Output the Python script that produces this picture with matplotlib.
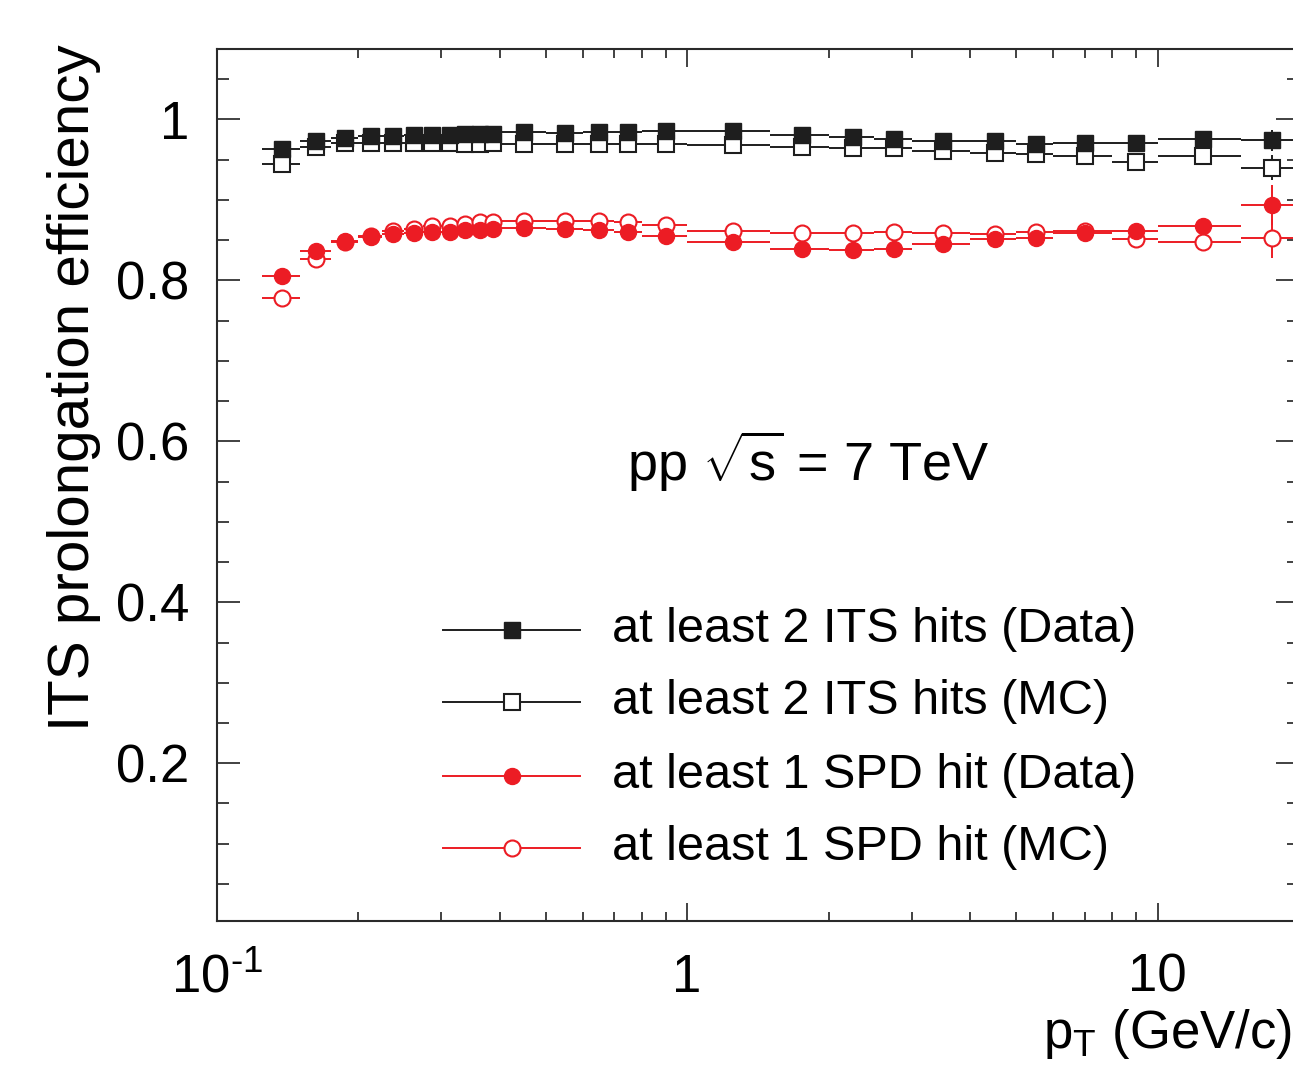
import matplotlib
matplotlib.use("Agg")
import matplotlib.pyplot as plt
import numpy as np
from matplotlib.ticker import FixedLocator, MultipleLocator, LogLocator, NullFormatter, FixedFormatter
from matplotlib.lines import Line2D
from matplotlib import transforms

plt.rcParams['font.family'] = ['Liberation Sans', 'DejaVu Sans']
plt.rcParams['mathtext.fontset'] = 'custom'
plt.rcParams['mathtext.rm'] = 'Liberation Sans'
plt.rcParams['mathtext.it'] = 'Liberation Sans:italic'
plt.rcParams['mathtext.bf'] = 'Liberation Sans:bold'

# ---------------- data ----------------
pt_edges = [0.125, 0.15, 0.175, 0.2, 0.225, 0.25, 0.275, 0.3, 0.325, 0.35, 0.375, 0.4,
            0.5, 0.6, 0.7, 0.8, 1.0, 1.5, 2.0, 2.5, 3.0, 4.0, 5.0, 6.0, 8.0, 10.0, 15.0, 20.0]

its_data = [0.963, 0.973, 0.977, 0.979, 0.979, 0.981, 0.981, 0.981, 0.982, 0.982, 0.982,
            0.984, 0.983, 0.984, 0.984, 0.986, 0.985, 0.981, 0.978, 0.975, 0.973, 0.973,
            0.969, 0.970, 0.971, 0.975, 0.974]
its_data_err = [0.002] * 25 + [0.004, 0.013]

its_mc = [0.944, 0.965, 0.971, 0.971, 0.971, 0.971, 0.971, 0.971, 0.969, 0.969, 0.971,
          0.969, 0.969, 0.969, 0.969, 0.969, 0.968, 0.966, 0.964, 0.964, 0.961, 0.958,
          0.957, 0.954, 0.947, 0.954, 0.940]
its_mc_err = [0.002] * 25 + [0.005, 0.016]

spd_data = [0.805, 0.836, 0.849, 0.854, 0.857, 0.859, 0.860, 0.860, 0.862, 0.863, 0.864,
            0.865, 0.864, 0.863, 0.860, 0.855, 0.847, 0.839, 0.838, 0.839, 0.845, 0.851,
            0.852, 0.859, 0.861, 0.867, 0.894]
spd_data_err = [0.002] * 25 + [0.010, 0.025]

spd_mc = [0.778, 0.827, 0.848, 0.855, 0.861, 0.864, 0.867, 0.868, 0.870, 0.872, 0.872,
          0.874, 0.874, 0.874, 0.872, 0.869, 0.861, 0.859, 0.859, 0.860, 0.859, 0.857,
          0.860, 0.861, 0.851, 0.848, 0.852]
spd_mc_err = [0.002] * 25 + [0.006, 0.024]

labels = ["at least 2 ITS hits (Data)", "at least 2 ITS hits (MC)",
          "at least 1 SPD hit (Data)", "at least 1 SPD hit (MC)"]

x_ticks = [0.1, 1, 10]
x_ticklabels = [r"$\mathregular{10^{\text{-}1}}$", "1", "10"]
y_ticks = [0.2, 0.4, 0.6, 0.8, 1.0]
y_ticklabels = ["0.2", "0.4", "0.6", "0.8", "1"]

# ---------------- figure ----------------
W, H = 1293, 1070
fig = plt.figure(figsize=(W / 100, H / 100), dpi=100)

def fx(px):
    return px / W

def fy(py):
    return 1 - py / H

ax = fig.add_axes([fx(216.7), fy(921), (1299.3 - 216.7) / W, (921 - 49.3) / H])

edges = np.array(pt_edges)
centers = 0.5 * (edges[:-1] + edges[1:])
xerr = 0.5 * (edges[1:] - edges[:-1])

BLACK = '#1e1e1e'
RED = '#ec1c24'
ms = 11.5
lw = 1.4

# MC first (open), then data (filled) on top
ax.errorbar(centers, its_mc, xerr=xerr, yerr=its_mc_err, fmt='s', color=BLACK,
            mfc='white', mec=BLACK, mew=1.5, ms=ms, elinewidth=lw, capsize=0, zorder=2)
ax.errorbar(centers, spd_mc, xerr=xerr, yerr=spd_mc_err, fmt='o', color=RED,
            mfc='white', mec=RED, mew=1.5, ms=ms, elinewidth=lw, capsize=0, zorder=2)
ax.errorbar(centers, its_data, xerr=xerr, yerr=its_data_err, fmt='s', color=BLACK,
            mfc=BLACK, mec=BLACK, ms=ms, elinewidth=lw, capsize=0, zorder=3)
ax.errorbar(centers, spd_data, xerr=xerr, yerr=spd_data_err, fmt='o', color=RED,
            mfc=RED, mec=RED, ms=ms, elinewidth=lw, capsize=0, zorder=3)

ax.set_xscale('log')
ax.set_xlim(0.1, 20)
ax.set_ylim(0.004, 1.087)

ax.xaxis.set_major_locator(FixedLocator(x_ticks))
ax.xaxis.set_minor_locator(LogLocator(base=10, subs=np.arange(2, 10)))
ax.xaxis.set_major_formatter(NullFormatter())
ax.xaxis.set_minor_formatter(NullFormatter())
ax.yaxis.set_major_locator(FixedLocator(y_ticks))
ax.yaxis.set_major_formatter(FixedFormatter(y_ticklabels))
ax.yaxis.set_minor_locator(MultipleLocator(0.05))

ax.tick_params(axis='both', which='both', direction='in', top=True, right=True,
               width=1.3, color='#333333')
ax.tick_params(axis='x', which='major', length=13)
ax.tick_params(axis='x', which='minor', length=6.5)
ax.tick_params(axis='y', which='major', length=16.5, labelsize=38, pad=20)
ax.tick_params(axis='y', which='minor', length=8.5)

for s in ax.spines.values():
    s.set_linewidth(1.5)
    s.set_color('#2a2a2a')

# x tick labels placed on a common baseline
xt = transforms.offset_copy(ax.get_xaxis_transform(), fig=fig, y=-71, units='dots')
for v, lab in zip(x_ticks, x_ticklabels):
    ax.text(v, 0, lab, transform=xt, ha='center', va='baseline', fontsize=38,
            clip_on=False)

# axis titles
fig.text(fx(101.5), fy(388), "ITS prolongation efficiency", rotation=90,
         ha='right', va='center', fontsize=42)
fig.text(fx(1292), fy(1048), r"p$_{\mathrm{T}}$ (GeV/c)", ha='right',
         va='baseline', fontsize=38)

# annotation
fig.text(fx(627), fy(481), r"pp $\sqrt{\mathrm{s}}$ = 7 TeV", ha='left',
         va='baseline', fontsize=39)

# legend (manual)
leg_rows = [630, 702, 776, 848]
leg_styles = [dict(marker='s', color=BLACK, mfc=BLACK, mec=BLACK),
              dict(marker='s', color=BLACK, mfc='white', mec=BLACK, mew=1.5),
              dict(marker='o', color=RED, mfc=RED, mec=RED),
              dict(marker='o', color=RED, mfc='white', mec=RED, mew=1.5)]
for row, st, lab in zip(leg_rows, leg_styles, labels):
    fig.add_artist(Line2D([fx(443), fx(580)], [fy(row), fy(row)], lw=lw,
                          color=st['color'], transform=fig.transFigure))
    fig.add_artist(Line2D([fx(512)], [fy(row)], lw=0, ms=ms,
                          transform=fig.transFigure, **st))
    fig.text(fx(612), fy(row), lab, ha='left', va='center', fontsize=35)

fig.savefig("out.png", dpi=100)
